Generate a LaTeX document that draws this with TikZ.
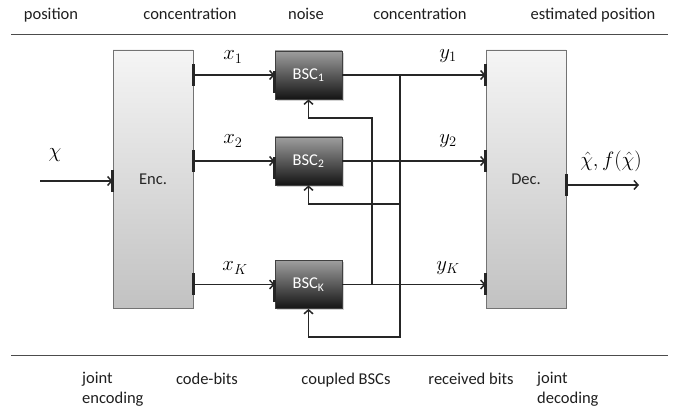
\documentclass[tikz,border=0pt]{standalone}
\usepackage{fontspec}
\setmainfont{Carlito}
\usetikzlibrary{arrows.meta,shadows}

\tikzset{
  lightbox/.style={draw=black!55, line width=0.8pt, top color=black!4, bottom color=black!24,
    minimum width=80pt, minimum height=258pt, font=\fontsize{16.5}{20}\selectfont, text=black!85},
  bscbox/.style={draw=black!75, line width=0.8pt, top color=black!38, bottom color=black!92,
    minimum width=67pt, minimum height=48pt, text=white, font=\fontsize{16.5}{20}\selectfont,
    drop shadow={opacity=0.35, shadow xshift=1.5pt, shadow yshift=-2pt}},
  flow/.style={line width=1.5pt, black!85, -{Straight Barb[length=4pt,width=9pt]}},
  port/.style={line width=3pt, black!85},
  rule/.style={line width=1pt, black!70},
  caption/.style={font=\fontsize{16.5}{20}\selectfont, text=black!88, inner sep=0pt},
  sym/.style={font=\fontsize{20}{24}\selectfont, inner sep=0pt},
  bigsym/.style={font=\fontsize{22}{26}\selectfont, inner sep=0pt}
}

\begin{document}
\begin{tikzpicture}[x=1pt, y=-1pt]

    \useasboundingbox (0,0) rectangle (689,411);

    % Rules above and below the block diagram
    \draw[rule] (11,35) -- (668,35);
    \draw[rule] (11,356) -- (668,356);

    % Stage names along the top
    \node[caption, anchor=base] (topPos) at (51,20) {position};
    \node[caption, anchor=base] (topConcA) at (190,20) {concentration};
    \node[caption, anchor=base] (topNoise) at (306,20) {noise};
    \node[caption, anchor=base] (topConcB) at (420,20) {concentration};
    \node[caption, anchor=base] (topEst) at (593,20) {estimated position};

    % Encoder, channels and decoder
    \node[lightbox] (enc) at (153,179) {Enc.};
    \node[lightbox] (dec) at (526,179) {Dec.};
    \node[bscbox] (bscA) at (308.5,75) {BSC\textsubscript{1}};
    \node[bscbox] (bscB) at (308.5,161) {BSC\textsubscript{2}};
    \node[bscbox] (bscK) at (308.5,284.5) {BSC\textsubscript{K}};

    % Free ends and bends of the wires
    \coordinate (src) at (40,181);
    \coordinate (sink) at (639,185);
    \coordinate (busA) at (400,337);
    \coordinate (busB) at (400,204);
    \coordinate (busK) at (372,118);

    % Input and output
    \draw[flow] (src) -- (enc.west |- src);
    \draw[flow] (dec.east |- sink) -- (sink);

    % Code-bits into the channels, received bits into the decoder
    \foreach \n in {bscA,bscB,bscK} {
        \draw[flow] (enc.east |- \n) -- (\n.west);
        \draw[flow] (\n.east) -- (dec.west |- \n);
    }

    % Coupling between the channels
    \draw[flow] (bscA.east -| busA) -- (busA) -| (bscK.south);
    \draw[flow] (busB) -| (bscB.south);
    \draw[flow] (bscK.east -| busK) -- (busK) -| (bscA.south);

    % Port marks on the block edges
    \foreach \n in {bscA,bscB,bscK} {
        \draw[port] (enc.east |- \n) ++(0,-11) -- ++(0,22);
        \draw[port] (dec.west |- \n) ++(0,-11) -- ++(0,22);
        \draw[port] (\n.west) ++(0,-4) -- ++(0,22);
    }
    \draw[port] (enc.west |- src) ++(0,-11) -- ++(0,22);
    \draw[port] (dec.east |- sink) ++(0,-11) -- ++(0,22);

    % Signal names
    \node[bigsym] (lblChi) at (55,155) {$\chi$};
    \node[sym] (lblXa) at (233,57) {$x_1$};
    \node[sym] (lblXb) at (233,141) {$x_2$};
    \node[sym] (lblXk) at (235,268) {$x_K$};
    \node[sym] (lblYa) at (448,56) {$y_1$};
    \node[sym] (lblYb) at (448,141) {$y_2$};
    \node[sym] (lblYk) at (448,268) {$y_K$};
    \node[bigsym] (lblOut) at (611,161) {$\hat{\chi}, f(\hat{\chi})$};

    % Stage names along the bottom
    \node[caption, anchor=north west, align=left] (botEnc) at (82,372) {joint\\encoding};
    \node[caption, anchor=base] (botBits) at (207,385) {code-bits};
    \node[caption, anchor=base] (botBsc) at (346,385) {coupled BSCs};
    \node[caption, anchor=base] (botRecv) at (471,385) {received bits};
    \node[caption, anchor=north west, align=left] (botDec) at (537,372) {joint\\decoding};

\end{tikzpicture}
\end{document}
